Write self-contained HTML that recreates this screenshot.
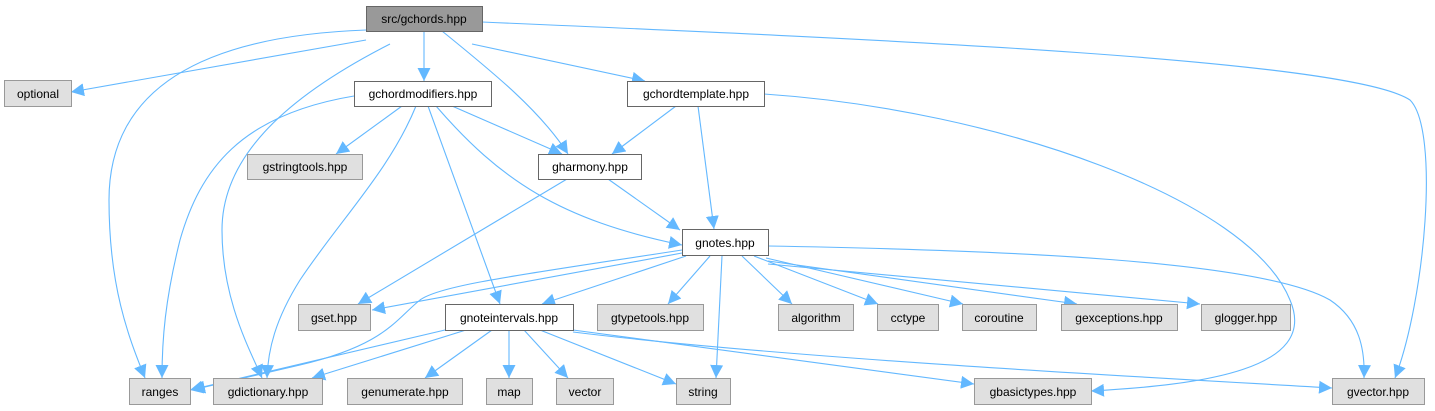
<!DOCTYPE html>
<html><head><meta charset="utf-8"><style>
html,body{margin:0;padding:0;background:#fff;}
svg{display:block;}
text{font-family:"Liberation Sans",Arial,sans-serif;font-size:12px;fill:#000;}
</style></head><body>
<svg width="1435" height="411" viewBox="0 0 1435 411" xmlns="http://www.w3.org/2000/svg">
<defs>
<marker id="a" viewBox="0 0 10 10" refX="10" refY="5" markerWidth="13" markerHeight="13" markerUnits="userSpaceOnUse" orient="auto">
<path d="M0,0 L10,5 L0,10 z" fill="#63b8ff"/></marker>
</defs>
<g fill="none" stroke="#63b8ff" stroke-width="1.1" marker-end="url(#a)">
<!-- gchords -->
<path d="M366,40 L71,92"/>
<path d="M366,30 C200,36 109,90 109,200 C109,290 130,340 145,378"/>
<path d="M390,44 C280,100 222,160 222,230 C222,300 250,350 262,378"/>
<path d="M424,31 L424,81"/>
<path d="M442,31 C490,70 540,110 568,154"/>
<path d="M472,44 L645,81"/>
<path d="M482,22 C900,40 1350,60 1410,100 C1440,130 1425,300 1395,378"/>
<!-- gchordmodifiers -->
<path d="M354,96 C240,115 200,170 180,240 C165,300 162,340 162,378"/>
<path d="M402,106 L336,154"/>
<path d="M416,106 C390,170 340,220 300,280 C275,320 268,350 267,378"/>
<path d="M428,106 L500,304"/>
<path d="M452,106 L562,154"/>
<path d="M436,106 C500,180 560,220 682,245"/>
<!-- gchordtemplate -->
<path d="M676,106 L612,154"/>
<path d="M698,106 L714,229"/>
<path d="M764,94 C1000,110 1250,200 1290,300 C1320,370 1200,385 1091,391"/>
<!-- gharmony -->
<path d="M567,179 L358,304"/>
<path d="M608,179 L680,230"/>
<!-- gnotes -->
<path d="M682,250 C520,275 440,285 420,300 C395,320 385,345 300,365 L192,390"/>
<path d="M682,253 L372,310"/>
<path d="M686,256 L542,304"/>
<path d="M710,256 L668,304"/>
<path d="M722,256 L716,378"/>
<path d="M742,256 L792,304"/>
<path d="M754,256 L878,304"/>
<path d="M766,258 L963,304"/>
<path d="M768,261 L1077,304"/>
<path d="M768,264 L1200,304"/>
<path d="M768,246 C1000,250 1260,260 1330,300 C1360,320 1365,350 1364,378"/>
<!-- gnoteintervals -->
<path d="M445,330 L190,390"/>
<path d="M466,330 L312,378"/>
<path d="M492,330 L425,378"/>
<path d="M509,330 L509,378"/>
<path d="M524,330 L568,378"/>
<path d="M540,330 L676,384"/>
<path d="M573,330 L974,384"/>
<path d="M573,332 C800,360 1200,380 1332,388"/>
</g>
<g stroke-width="1">
<rect x="366.5" y="6.5" width="116" height="25" fill="#999" stroke="#666"/>
<rect x="4.5" y="80.5" width="67" height="26" fill="#e0e0e0" stroke="#999"/>
<rect x="354.5" y="81.5" width="137" height="25" fill="#fff" stroke="#666"/>
<rect x="627.5" y="81.5" width="137" height="25" fill="#fff" stroke="#666"/>
<rect x="538.5" y="154.5" width="103" height="25" fill="#fff" stroke="#666"/>
<rect x="247.5" y="154.5" width="115" height="25" fill="#e0e0e0" stroke="#999"/>
<rect x="682.5" y="229.5" width="86" height="26" fill="#fff" stroke="#666"/>
<rect x="298.5" y="304.5" width="72" height="26" fill="#e0e0e0" stroke="#999"/>
<rect x="445.5" y="304.5" width="128" height="26" fill="#fff" stroke="#666"/>
<rect x="597.5" y="304.5" width="106" height="26" fill="#e0e0e0" stroke="#999"/>
<rect x="778.5" y="304.5" width="75" height="26" fill="#e0e0e0" stroke="#999"/>
<rect x="877.5" y="304.5" width="61" height="26" fill="#e0e0e0" stroke="#999"/>
<rect x="962.5" y="304.5" width="74" height="26" fill="#e0e0e0" stroke="#999"/>
<rect x="1061.5" y="304.5" width="116" height="26" fill="#e0e0e0" stroke="#999"/>
<rect x="1201.5" y="304.5" width="89" height="26" fill="#e0e0e0" stroke="#999"/>
<rect x="129.5" y="378.5" width="61" height="26" fill="#e0e0e0" stroke="#999"/>
<rect x="213.5" y="378.5" width="109" height="26" fill="#e0e0e0" stroke="#999"/>
<rect x="347.5" y="378.5" width="115" height="26" fill="#e0e0e0" stroke="#999"/>
<rect x="486.5" y="378.5" width="46" height="26" fill="#e0e0e0" stroke="#999"/>
<rect x="556.5" y="378.5" width="57" height="26" fill="#e0e0e0" stroke="#999"/>
<rect x="676.5" y="378.5" width="54" height="26" fill="#e0e0e0" stroke="#999"/>
<rect x="974.5" y="378.5" width="117" height="26" fill="#e0e0e0" stroke="#999"/>
<rect x="1332.5" y="378.5" width="92" height="26" fill="#e0e0e0" stroke="#999"/>
</g>
<g text-anchor="middle">
<text x="424" y="23">src/gchords.hpp</text>
<text x="38" y="98">optional</text>
<text x="423" y="98">gchordmodifiers.hpp</text>
<text x="696" y="98">gchordtemplate.hpp</text>
<text x="590" y="171">gharmony.hpp</text>
<text x="305" y="171">gstringtools.hpp</text>
<text x="725" y="247">gnotes.hpp</text>
<text x="334" y="322">gset.hpp</text>
<text x="509" y="322">gnoteintervals.hpp</text>
<text x="650" y="322">gtypetools.hpp</text>
<text x="816" y="322">algorithm</text>
<text x="908" y="322">cctype</text>
<text x="999" y="322">coroutine</text>
<text x="1119" y="322">gexceptions.hpp</text>
<text x="1246" y="322">glogger.hpp</text>
<text x="160" y="396">ranges</text>
<text x="268" y="396">gdictionary.hpp</text>
<text x="405" y="396">genumerate.hpp</text>
<text x="509" y="396">map</text>
<text x="585" y="396">vector</text>
<text x="703" y="396">string</text>
<text x="1033" y="396">gbasictypes.hpp</text>
<text x="1378" y="396">gvector.hpp</text>
</g>
</svg>
</body></html>
